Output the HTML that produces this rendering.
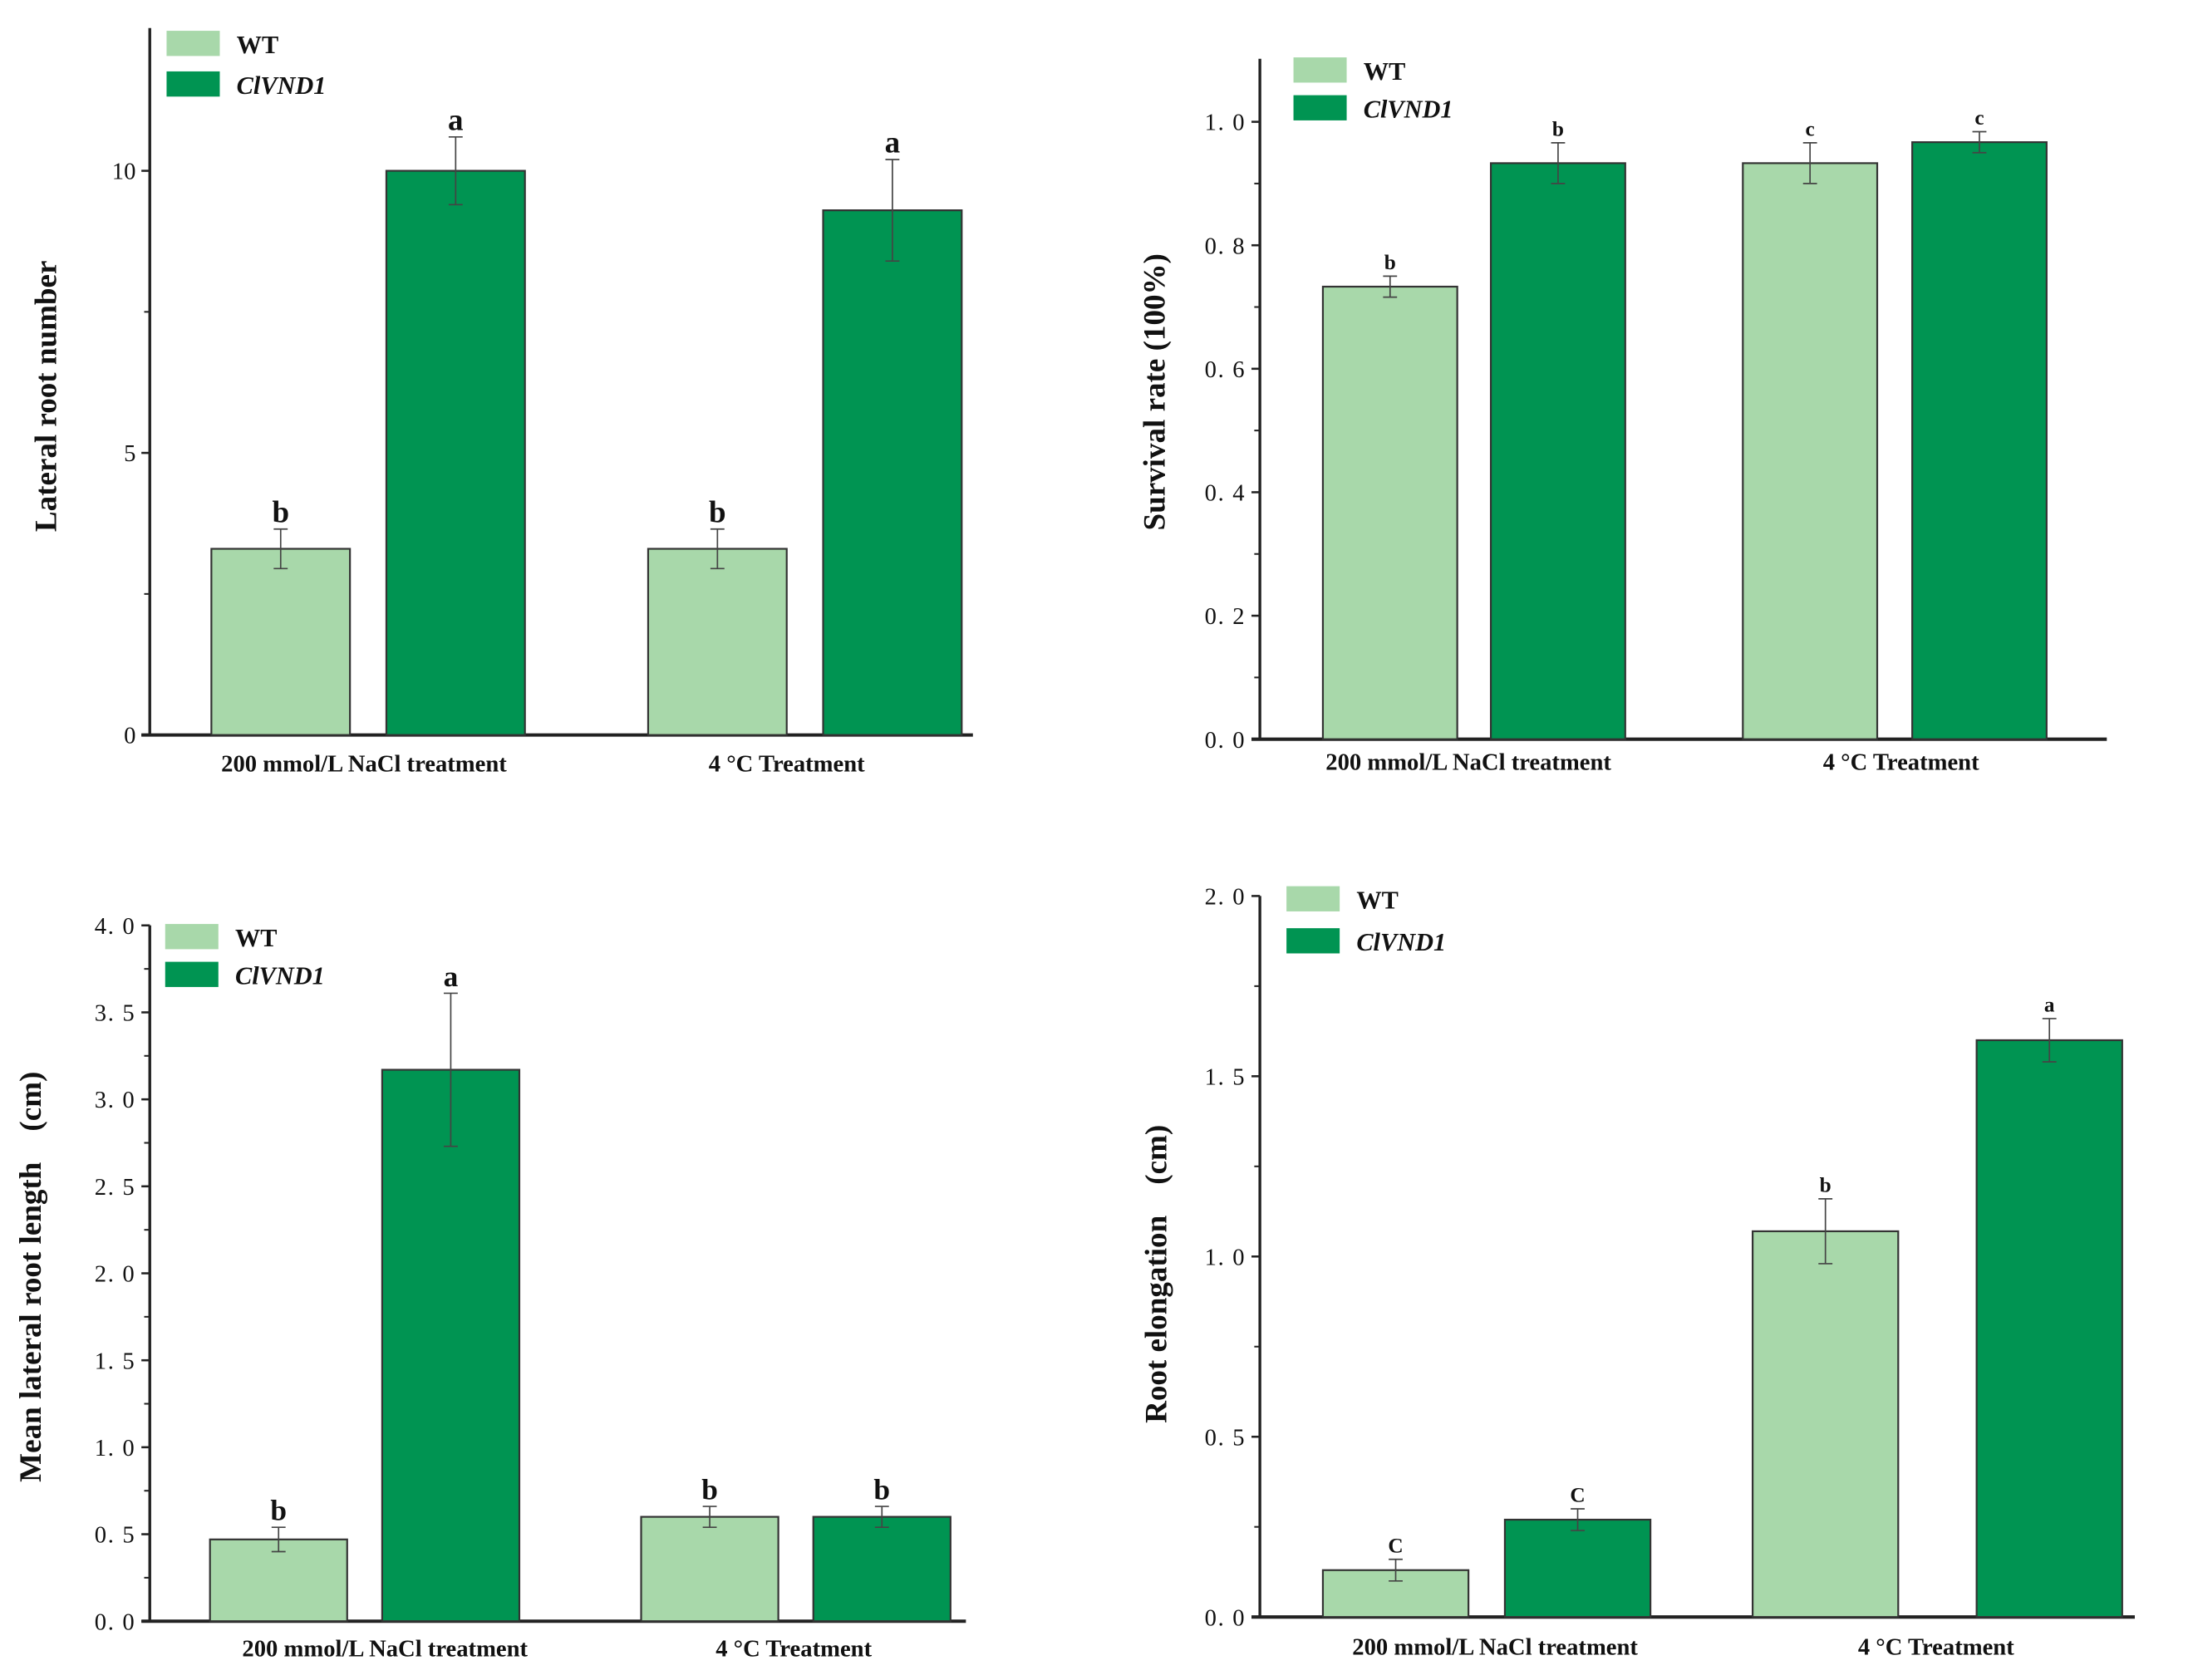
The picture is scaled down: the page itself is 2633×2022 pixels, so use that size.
<!DOCTYPE html>
<html><head><meta charset="utf-8"><style>
html,body{margin:0;padding:0;background:#fff;}
svg{display:block;}
text{font-family:"Liberation Serif",serif;fill:#111;}
</style></head><body>
<svg id="fig" width="2633" height="2022" viewBox="0 0 1563 1200" preserveAspectRatio="none"></svg>
<script>
// ---- data ----
const categories = ["200 mmol/L NaCl treatment", "4 \u00B0C Treatment"];
const seriesNames = ["WT", "ClVND1"];
// chart A: lateral root number
const lateralWT = [3.3, 3.3];
const lateralCL = [10.0, 9.3];
const lateralWTErr = [0.35, 0.35];
const lateralCLErr = [0.6, 0.9];
const lateralWTSig = ["b", "b"];
const lateralCLSig = ["a", "a"];
const lateralTicks = ["0", "5", "10"];
// chart B: survival rate
const survivalWT = [0.733, 0.933];
const survivalCL = [0.933, 0.967];
const survivalWTErr = [0.017, 0.033];
const survivalCLErr = [0.033, 0.017];
const survivalWTSig = ["b", "c"];
const survivalCLSig = ["b", "c"];
const survivalTicks = ["0.0", "0.2", "0.4", "0.6", "0.8", "1.0"];
// chart C: mean lateral root length
const lengthWT = [0.47, 0.6];
const lengthCL = [3.17, 0.6];
const lengthWTErr = [0.07, 0.06];
const lengthCLErr = [0.44, 0.06];
const lengthWTSig = ["b", "b"];
const lengthCLSig = ["a", "b"];
const lengthTicks = ["0.0", "0.5", "1.0", "1.5", "2.0", "2.5", "3.0", "3.5", "4.0"];
// chart D: root elongation
const elongWT = [0.13, 1.07];
const elongCL = [0.27, 1.6];
const elongWTErr = [0.03, 0.09];
const elongCLErr = [0.03, 0.06];
const elongWTSig = ["C", "b"];
const elongCLSig = ["C", "a"];
const elongTicks = ["0.0", "0.5", "1.0", "1.5", "2.0"];

const NS = "http://www.w3.org/2000/svg";
const svg = document.getElementById("fig");
function mk(tag, attrs, parent, txt) {
  const e = document.createElementNS(NS, tag);
  for (const k in attrs) e.setAttribute(k, attrs[k]);
  if (txt !== undefined) e.textContent = txt;
  (parent || svg).appendChild(e);
  return e;
}
const LIGHT = "#a8d8aa", DARK = "#009452";

function drawChart(cfg) {
  const g = mk("g", {});
  
  
  const y = v => cfg.y0 - (v - cfg.vmin) / (cfg.vmax - cfg.vmin) * (cfg.y0 - cfg.y1);
  // axes
  const ya = mk("line", {x1: cfg.ax, y1: cfg.yTop, x2: cfg.ax, y2: cfg.y0 + 1, stroke: "#222", "stroke-width": 2}, g);
  
  
  const xa = mk("line", {x1: cfg.ax - 6, y1: cfg.y0, x2: cfg.axRight, y2: cfg.y0, stroke: "#222", "stroke-width": 2.4}, g);
  
  
  // ticks
  cfg.ticks.forEach(t => {
    const v = parseFloat(t), py = y(v);
    mk("line", {x1: cfg.ax - 6, y1: py, x2: cfg.ax, y2: py, stroke: "#222", "stroke-width": 1.5}, g);
    const tl = mk("text", {x: cfg.ax - 10, y: py + 6, "text-anchor": "end", "font-size": 17, "letter-spacing": cfg.ls || 0}, g, t.replace(".", cfg.ls ? ". " : "."));
    
    
  });
  for (let v = cfg.vmin; v <= cfg.vmax + 1e-9; v += cfg.minor) {
    mk("line", {x1: cfg.ax - 4, y1: y(v), x2: cfg.ax, y2: y(v), stroke: "#222", "stroke-width": 1.2}, g);
  }
  // bars
  const series = [[cfg.wt, cfg.wtErr, cfg.wtSig, LIGHT, cfg.wtX], [cfg.cl, cfg.clErr, cfg.clSig, DARK, cfg.clX]];
  series.forEach((s, si) => {
    s[0].forEach((v, i) => {
      const x = s[4][i], w = cfg.bw;
      const r = mk("rect", {x: x, y: y(v), width: w, height: cfg.y0 - y(v), fill: s[3], stroke: "#333", "stroke-width": 1.3}, g);
      
      
      const cx = x + w / 2, e = s[1][i];
      mk("line", {x1: cx, y1: y(v + e), x2: cx, y2: y(v - e), stroke: "#444", "stroke-width": 1}, g);
      mk("line", {x1: cx - 5, y1: y(v + e), x2: cx + 5, y2: y(v + e), stroke: "#444", "stroke-width": 1}, g);
      mk("line", {x1: cx - 5, y1: y(v - e), x2: cx + 5, y2: y(v - e), stroke: "#444", "stroke-width": 1}, g);
      const lt = mk("text", {x: cx, y: y(v + e) - 5, "text-anchor": "middle", "font-size": cfg.sigSize, "font-weight": "bold"}, g, s[2][i]);
      
      
    });
  });
  // category labels
  categories.forEach((c, i) => {
    const t = mk("text", {x: cfg.catX[i], y: cfg.catY, "text-anchor": "middle", "font-size": 17, "font-weight": "bold"}, g, c);
    
    
  });
  // y title
  const yt = mk("text", {x: 0, y: 0, "text-anchor": "middle", "font-size": 22, "font-weight": "bold", transform: `translate(${cfg.titleX},${cfg.titleY}) rotate(-90)`}, g, cfg.title);
  
  
  // legend
  [LIGHT, DARK].forEach((col, i) => {
    const ly = cfg.legY + i * cfg.legGap;
    const sw = mk("rect", {x: cfg.legX, y: ly, width: 38, height: 18, fill: col}, g);
    
    
    const lt = mk("text", {x: cfg.legX + 50, y: ly + 16, "font-size": 18, "font-weight": "bold", "font-style": i ? "italic" : "normal"}, g, seriesNames[i]);
    
    
  });
}

drawChart({name: "chart-lateral-root-number", ax: 107, axRight: 695, yTop: 20, y0: 525, y1: 122, vmin: 0, vmax: 10, minor: 2.5,
  ticks: lateralTicks, wt: lateralWT, cl: lateralCL, wtErr: lateralWTErr, clErr: lateralCLErr, wtSig: lateralWTSig, clSig: lateralCLSig,
  wtX: [151, 463], clX: [276, 588], bw: 99, sigSize: 22, catX: [260, 562], catY: 551,
  title: "Lateral root number", titleX: 40, titleY: 283, legX: 119, legY: 22, legGap: 29});
drawChart({name: "chart-survival-rate", ax: 900, axRight: 1505, yTop: 42, y0: 528, y1: 87, vmin: 0, vmax: 1, minor: 0.1, ls: 1,
  ticks: survivalTicks, wt: survivalWT, cl: survivalCL, wtErr: survivalWTErr, clErr: survivalCLErr, wtSig: survivalWTSig, clSig: survivalCLSig,
  wtX: [945, 1245], clX: [1065, 1366], bw: 96, sigSize: 15, catX: [1049, 1358], catY: 550,
  title: "Survival rate (100%)", titleX: 832, titleY: 280, legX: 924, legY: 41, legGap: 27});
drawChart({name: "chart-mean-lateral-root-length", ax: 107, axRight: 690, yTop: 661, y0: 1158, y1: 661, vmin: 0, vmax: 4, minor: 0.25, ls: 1,
  ticks: lengthTicks, wt: lengthWT, cl: lengthCL, wtErr: lengthWTErr, clErr: lengthCLErr, wtSig: lengthWTSig, clSig: lengthCLSig,
  wtX: [150, 458], clX: [273, 581], bw: 98, sigSize: 21, catX: [275, 567], catY: 1183,
  title: "Mean lateral root length\u3000(cm)", titleX: 29, titleY: 912, legX: 118, legY: 660, legGap: 27});
drawChart({name: "chart-root-elongation", ax: 900, axRight: 1525, yTop: 640, y0: 1155, y1: 640, vmin: 0, vmax: 2, minor: 0.25, ls: 1,
  ticks: elongTicks, wt: elongWT, cl: elongCL, wtErr: elongWTErr, clErr: elongCLErr, wtSig: elongWTSig, clSig: elongCLSig,
  wtX: [945, 1252], clX: [1075, 1412], bw: 104, sigSize: 15, catX: [1068, 1383], catY: 1182,
  title: "Root elongation\u3000(cm)", titleX: 833, titleY: 910, legX: 919, legY: 633, legGap: 30});
</script>
</body></html>
